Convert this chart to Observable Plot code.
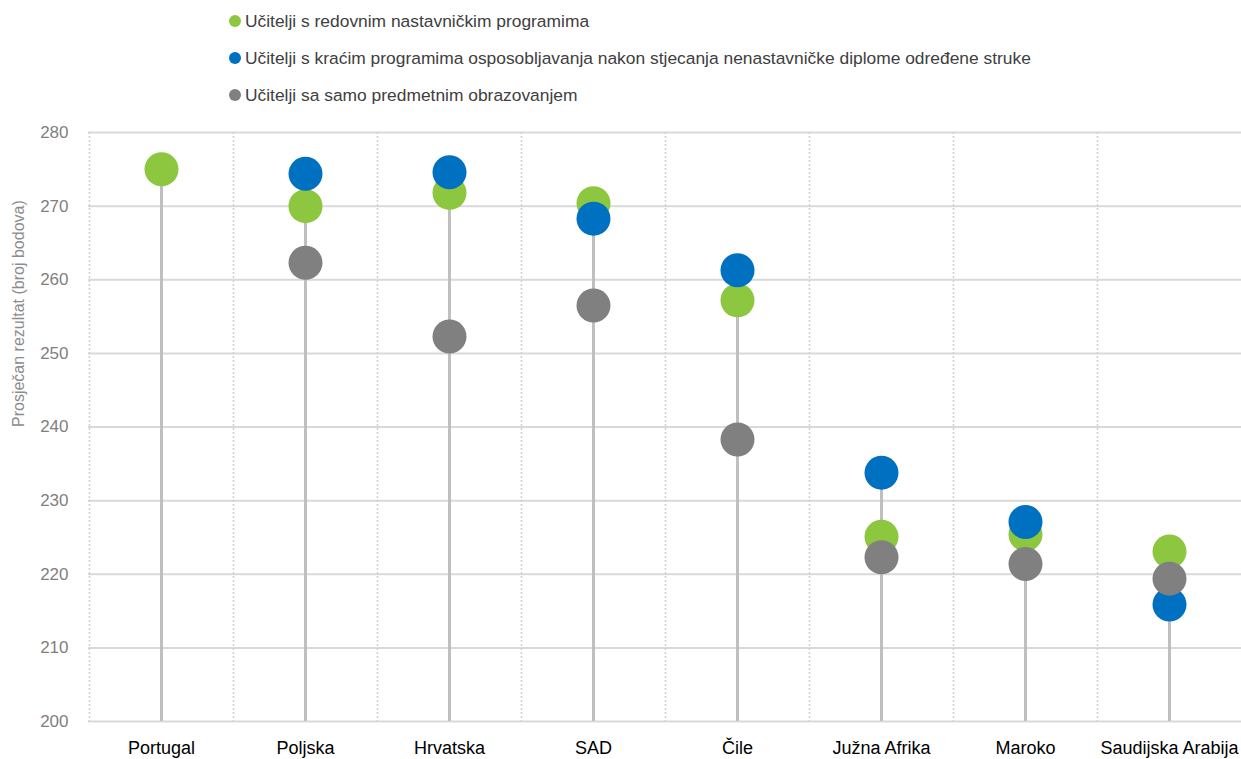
<!DOCTYPE html>
<html>
<head>
<meta charset="utf-8">
<script src="https://cdn.jsdelivr.net/npm/d3@7"></script>
<script src="https://cdn.jsdelivr.net/npm/@observablehq/plot@0.6"></script>
<style>
  html, body { margin: 0; padding: 0; background: #fff; }
  body { width: 1241px; height: 759px; overflow: hidden; font-family: "Liberation Sans", Arial, sans-serif; }
  #legend { height: 110px; position: relative; }
  .item { position: absolute; left: 229px; height: 20px; display: flex; align-items: center; font-size: 17.4px; color: #404040; white-space: nowrap; }
  .sw { width: 12px; height: 12px; border-radius: 50%; margin-right: 4px; flex: none; }
</style>
</head>
<body>
<div id="legend"></div>
<div id="chart"></div>
<script>
const countries = ["Portugal", "Poljska", "Hrvatska", "SAD", "Čile", "Južna Afrika", "Maroko", "Saudijska Arabija"];
const seriesNames = [
  "Učitelji s redovnim nastavničkim programima",
  "Učitelji s kraćim programima osposobljavanja nakon stjecanja nenastavničke diplome određene struke",
  "Učitelji sa samo predmetnim obrazovanjem"
];
const seriesColors = ["#8dc63f", "#0070c0", "#808080"];
const regular = [275.0, 270.0, 271.8, 270.4, 257.2, 225.1, 225.4, 223.1];
const shorter = [null, 274.4, 274.6, 268.3, 261.3, 233.8, 227.1, 215.9];
const subjectOnly = [null, 262.3, 252.3, 256.5, 238.3, 222.3, 221.4, 219.4];
const yTicks = [200, 210, 220, 230, 240, 250, 260, 270, 280];
const yLabel = "Prosječan rezultat (broj bodova)";

const series = [regular, shorter, subjectOnly];

// legend
const legend = document.getElementById("legend");
const rowY = [11, 48, 85];
seriesNames.forEach((name, i) => {
  const it = document.createElement("div");
  it.className = "item";
  it.style.top = rowY[i] + "px";
  it.innerHTML = `<span class="sw" style="background:${seriesColors[i]}"></span><span>${name}</span>`;
  legend.appendChild(it);
});

const pts = s => countries.map((c, i) => ({country: c, value: series[s][i]})).filter(d => d.value != null);
const stems = countries.map((c, i) => ({country: c, max: d3.max(series, s => s[i])}));

const W = 1241, mL = 88, mR = 0;
const step = (W - mL - mR) / countries.length;

const chart = Plot.plot({
  width: W,
  height: 649,
  marginTop: 22,
  marginBottom: 38,
  marginLeft: mL,
  marginRight: mR,
  style: {fontFamily: "'Liberation Sans', Arial, sans-serif", background: "#fff"},
  x: {type: "band", domain: countries, padding: 0},
  y: {domain: [200, 280]},
  marks: [
    Plot.ruleY(yTicks, {stroke: "#d9d9d9", strokeWidth: 2}),
    Plot.ruleX(countries, {x: d => d, dx: -step / 2, stroke: "#cfcfcf", strokeWidth: 1.5, strokeDasharray: "2,2"}),
    Plot.ruleX(stems, {x: "country", y1: 200, y2: "max", stroke: "#bfbfbf", strokeWidth: 3}),
    Plot.dot(pts(0), {x: "country", y: "value", r: 17, fill: seriesColors[0]}),
    Plot.dot(pts(1), {x: "country", y: "value", r: 17, fill: seriesColors[1]}),
    Plot.dot(pts(2), {x: "country", y: "value", r: 17, fill: seriesColors[2]}),
    Plot.axisY({ticks: yTicks, tickSize: 0, tickPadding: 20, fontSize: 17, color: "#7f7f7f", label: null}),
    Plot.axisX({tickSize: 0, tickPadding: 20, fontSize: 18, color: "#000", label: null}),
    Plot.text([yLabel], {frameAnchor: "left", dx: -70, rotate: -90, fontSize: 16, fill: "#8c8c8c"})
  ]
});
document.getElementById("chart").appendChild(chart);
</script>
</body>
</html>
